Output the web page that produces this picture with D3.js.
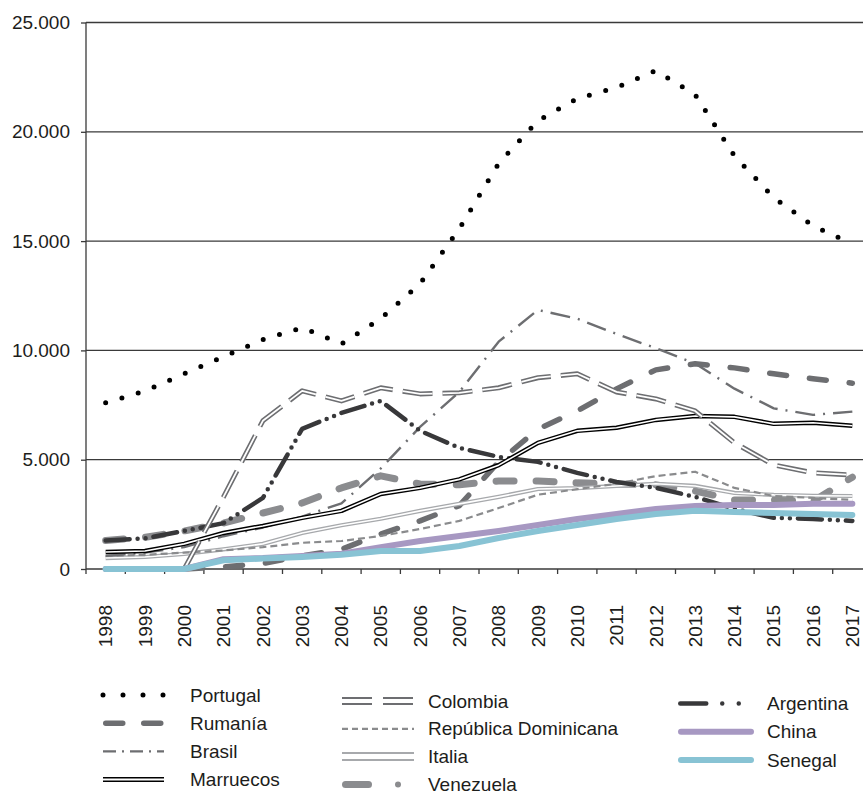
<!DOCTYPE html>
<html>
<head>
<meta charset="utf-8">
<script src="https://cdn.jsdelivr.net/npm/d3@7"></script>
<style>
  body { margin: 0; background: #fff; }
  text { font-family: "Liberation Sans", Arial, Helvetica, sans-serif; fill: #1d1d1b; }
</style>
</head>
<body>
<svg id="chart" width="863" height="794"></svg>
<script>
// data
var years = ["1998","1999","2000","2001","2002","2003","2004","2005","2006","2007",
             "2008","2009","2010","2011","2012","2013","2014","2015","2016","2017"];
var yTicks = [0, 5000, 10000, 15000, 20000, 25000];

var portugal   = [7600, 8150, 8930, 9710, 10490, 11040, 10300, 11450, 13050, 15570, 18550, 20510, 21520, 22030, 22800, 21700, 18900, 16990, 15700, 14880];
var rumania    = [0, 0, 0, 100, 250, 600, 900, 1600, 2200, 2900, 4900, 6400, 7230, 8240, 9110, 9390, 9200, 8930, 8700, 8500];
var brasil     = [600, 750, 1000, 1500, 1900, 2400, 3000, 4600, 6500, 8100, 10400, 11850, 11450, 10750, 10100, 9400, 8250, 7350, 7050, 7200];
var marruecos  = [780, 820, 1150, 1650, 1970, 2340, 2660, 3430, 3710, 4100, 4750, 5770, 6320, 6460, 6820, 7000, 6960, 6640, 6690, 6550];
var colombia   = [0, 0, 0, 3300, 6780, 8150, 7690, 8290, 8010, 8060, 8290, 8750, 8930, 8100, 7780, 7230, 5770, 4760, 4400, 4300];
var repDom     = [600, 650, 750, 850, 1000, 1200, 1280, 1510, 1830, 2200, 2790, 3400, 3650, 3900, 4250, 4450, 3710, 3340, 3250, 3160];
var italia     = [500, 550, 690, 900, 1150, 1650, 2000, 2300, 2660, 2980, 3300, 3660, 3700, 3800, 3900, 3800, 3480, 3390, 3350, 3340];
var venezuela  = [1300, 1450, 1740, 2100, 2560, 3020, 3710, 4260, 3890, 3850, 4030, 4030, 3940, 3890, 3850, 3570, 3160, 3160, 3100, 4200];
var argentina  = [1300, 1400, 1740, 2100, 3250, 6410, 7140, 7690, 6320, 5540, 5130, 4900, 4400, 3980, 3710, 3300, 2750, 2340, 2290, 2200];
var china      = [0, 0, 0, 450, 500, 600, 700, 1000, 1280, 1510, 1740, 2010, 2290, 2520, 2750, 2880, 2930, 2930, 2980, 2980];
var senegal    = [0, 0, 0, 400, 480, 550, 650, 820, 820, 1050, 1420, 1740, 2010, 2290, 2520, 2660, 2610, 2560, 2520, 2470];

var series = [
  {name: "Venezuela", values: venezuela},
  {name: "Rumanía", values: rumania},
  {name: "Italia", values: italia},
  {name: "República Dominicana", values: repDom},
  {name: "Brasil", values: brasil},
  {name: "Argentina", values: argentina},
  {name: "Marruecos", values: marruecos},
  {name: "Colombia", values: colombia},
  {name: "China", values: china},
  {name: "Senegal", values: senegal},
  {name: "Portugal", values: portugal}
];

// legend columns, in reading order
var legendCols = [
  ["Portugal", "Rumanía", "Brasil", "Marruecos"],
  ["Colombia", "República Dominicana", "Italia", "Venezuela"],
  ["Argentina", "China", "Senegal"]
];

// line styles (chart and legend)
var styles = {
  "Portugal":  {color: "#000", width: 5, dash: "0 17", cap: "round", ldash: "0 20", noInset: true},
  "Rumanía":   {color: "#6d6e71", width: 5.5, dash: "17 23", cap: "round", ldash: "17 21"},
  "Brasil":    {color: "#6d6e71", width: 2.4, dash: "20 8 2 8", cap: "butt", ldash: "13 6 2 6"},
  "Marruecos": {color: "#000", width: 4.5, inner: 1.6, lwidth: 5, linner: 2},
  "Colombia":  {color: "#6d6e71", width: 5, inner: 1.8, dash: "30 10", ldash: "30 11", lwidth: 8, linner: 4},
  "República Dominicana": {color: "#8a8b8d", width: 2.2, dash: "7 4", ldash: "6 4"},
  "Italia":    {color: "#a7a9ac", width: 4.2, inner: 1.6, lwidth: 9, linner: 5},
  "Venezuela": {color: "#8b8c8f", width: 7, dash: "18 22", cap: "round"},
  "Argentina": {color: "#38383a", width: 4.5, dash: "24 8 0 8 0 8", cap: "round", ldash: "26 16 0 16.5 0 40"},
  "China":     {color: "#a798c2", width: 6, cap: "round"},
  "Senegal":   {color: "#88c3d4", width: 6, cap: "round"}
};

var svg = d3.select("#chart");
var mLeft = 86, mRight = 872, mTop = 22.5, mBottom = 569;

var x = d3.scaleBand().domain(years).range([mLeft, mRight]);
var y = d3.scaleLinear().domain([0, 25000]).range([mBottom, mTop]);
var cx = function (d) { return x(d) + x.bandwidth() / 2; };

var loc = d3.formatLocale({decimal: ",", thousands: ".", grouping: [3], currency: ["", ""]});
var fmt = loc.format(",d");

// gridlines
svg.append("g").selectAll("line")
  .data(yTicks)
  .enter().append("line")
  .attr("x1", mLeft).attr("x2", 863)
  .attr("y1", function (d) { return y(d); })
  .attr("y2", function (d) { return y(d); })
  .attr("stroke", "#3a3a3a").attr("stroke-width", 1.3);

// y axis
var yAxis = d3.axisLeft(y).tickValues(yTicks).tickSize(5).tickPadding(11).tickFormat(fmt);
var gy = svg.append("g").attr("transform", "translate(" + mLeft + ",0)").call(yAxis);
gy.select(".domain").remove();
gy.selectAll(".tick line").attr("stroke", "#3a3a3a").attr("stroke-width", 1.3);
gy.selectAll(".tick text").attr("font-size", 19).attr("fill", "#1d1d1b")
  .style("font-family", "'Liberation Sans', Arial, sans-serif");
svg.append("line").attr("x1", mLeft).attr("x2", mLeft).attr("y1", mTop).attr("y2", mBottom)
  .attr("stroke", "#3a3a3a").attr("stroke-width", 1.3);

// x axis ticks at band edges
var edges = years.map(function (d) { return x(d); }).concat([mRight]);
svg.append("g").selectAll("line")
  .data(edges)
  .enter().append("line")
  .attr("x1", function (d) { return d; }).attr("x2", function (d) { return d; })
  .attr("y1", mBottom).attr("y2", mBottom + 5)
  .attr("stroke", "#3a3a3a").attr("stroke-width", 1.3);

svg.append("g").selectAll("text")
  .data(years)
  .enter().append("text")
  .attr("transform", function (d) { return "translate(" + cx(d) + ",605) rotate(-90)"; })
  .attr("text-anchor", "end")
  .attr("dy", "0.35em")
  .attr("font-size", 19)
  .text(function (d) { return d; });

// lines
var line = d3.line()
  .x(function (d, i) { return cx(years[i]); })
  .y(function (d) { return y(d); });

function stroke(sel, st, w, dash, color) {
  sel.attr("fill", "none")
    .attr("stroke", color || st.color)
    .attr("stroke-width", w)
    .attr("stroke-linecap", st.cap || "butt")
    .attr("stroke-linejoin", "round");
  if (dash) sel.attr("stroke-dasharray", dash);
}

var plot = svg.append("g");
series.forEach(function (s) {
  var st = styles[s.name];
  var d = line(s.values);
  stroke(plot.append("path").attr("d", d), st, st.width, st.dash);
  if (st.inner) {
    stroke(plot.append("path").attr("d", d), st, st.inner, st.dash, "#fff");
  }
});

// legend
var colPos = [
  {x0: 103, x1: 164, tx: 190, y0: 695, step: 28.2},
  {x0: 342, x1: 414, tx: 428, y0: 701, step: 27.8},
  {x0: 678, x1: 754, tx: 767, y0: 703.5, step: 28.2}
];

legendCols.forEach(function (names, c) {
  var p = colPos[c];
  names.forEach(function (name, r) {
    var st = styles[name];
    var yy = p.y0 + r * p.step;
    var g = svg.append("g");
    var w = st.lwidth || st.width;
    var dash = st.ldash || st.dash;
    if (name === "Venezuela") {
      stroke(g.append("line").attr("x1", p.x0 + 3.5).attr("x2", p.x0 + 26.5)
        .attr("y1", yy).attr("y2", yy), st, st.width, null);
      g.append("circle").attr("cx", p.x0 + 56).attr("cy", yy).attr("r", 3)
        .attr("fill", st.color);
    } else {
      var inset = (st.cap === "round" && !st.noInset) ? w / 2 : 0;
      stroke(g.append("line").attr("x1", p.x0 + inset).attr("x2", p.x1 - inset)
        .attr("y1", yy).attr("y2", yy), st, w, dash);
      if (st.inner) {
        stroke(g.append("line").attr("x1", p.x0).attr("x2", p.x1)
          .attr("y1", yy).attr("y2", yy), st, st.linner || st.inner, dash, "#fff");
      }
    }
    g.append("text").attr("x", p.tx).attr("y", yy).attr("dy", "0.35em")
      .attr("font-size", 19).text(name);
  });
});
</script>
</body>
</html>
